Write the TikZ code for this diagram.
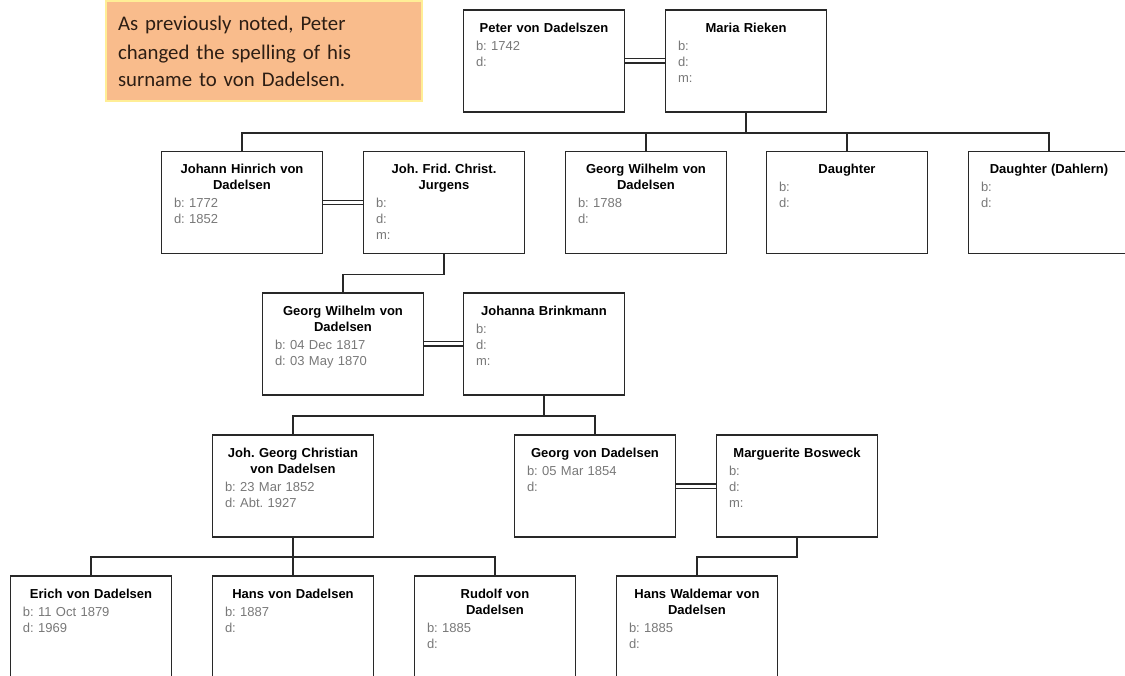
\documentclass[tikz,border=0pt]{standalone}
\usepackage{fontspec}
\setmainfont{Liberation Sans}
\newfontfamily\notefont{Carlito}
\usetikzlibrary{calc}
\frenchspacing
\definecolor{notefill}{RGB}{249,188,140}
\definecolor{noteedge}{RGB}{255,238,150}
\definecolor{notetext}{RGB}{45,30,20}
\definecolor{detail}{RGB}{120,120,120}
\definecolor{boxedge}{RGB}{40,40,40}
\tikzset{
  person/.style={draw=boxedge, line width=1.7pt, minimum width=161pt, minimum height=102pt, inner sep=0pt},
  info/.style={text width=136pt, inner sep=0pt, anchor=north, font=\fontsize{13}{16}\selectfont},
  link/.style={draw=boxedge, line width=1.5pt},
  marriage/.style={draw=boxedge, double=white, double distance=3pt, line width=1.2pt},
  note/.style={fill=notefill, draw=noteedge, line width=2pt, anchor=north west, minimum width=315pt, minimum height=100pt, text width=292pt, inner xsep=12pt, align=left, text=notetext, font=\notefont\fontsize{20.8}{27}\selectfont},
}
\newcommand{\pinfo}[2]{{\centering\bfseries #1\par}\vspace{2pt}{\raggedright\color{detail}#2\par}}
\newcommand{\person}[5]{%
  \node[person] (#1) at (#2,#3) {};
  \node[info] (#1-t) at ($(#1.north)+(0,13.5)$) {\pinfo{#4}{#5}};}
\begin{document}
\begin{tikzpicture}[x=1pt,y=-1pt]
\useasboundingbox (0,0) rectangle (1125,676);
\node[note] (note) at (105,0) {\vspace*{2pt}As previously noted, Peter\\changed the spelling of his\\surname to von Dadelsen.};
% row 1
\person{peter}{544}{61}{Peter von Dadelszen}{b: 1742\\d:}
\person{maria}{746}{61}{Maria Rieken}{b:\\d:\\m:}
% row 2
\person{jh}{242}{202.5}{Johann Hinrich von\\Dadelsen}{b: 1772\\d: 1852}
\person{jf}{444}{202.5}{Joh. Frid. Christ.\\Jurgens}{b:\\d:\\m:}
\person{gwa}{646}{202.5}{Georg Wilhelm von\\Dadelsen}{b: 1788\\d:}
\person{dau}{847}{202.5}{Daughter}{b:\\d:}
\person{dah}{1049}{202.5}{Daughter (Dahlern)}{b:\\d:}
% row 3
\person{gwb}{343}{344}{Georg Wilhelm von\\Dadelsen}{b: 04 Dec 1817\\d: 03 May 1870}
\person{joh}{544}{344}{Johanna Brinkmann}{b:\\d:\\m:}
% row 4
\person{jgc}{293}{486}{Joh. Georg Christian\\von Dadelsen}{b: 23 Mar 1852\\d: Abt. 1927}
\person{georg}{595}{486}{Georg von Dadelsen}{b: 05 Mar 1854\\d:}
\person{marg}{797}{486}{Marguerite Bosweck}{b:\\d:\\m:}
% row 5
\person{erich}{91}{627}{Erich von Dadelsen}{b: 11 Oct 1879\\d: 1969}
\person{hans}{293}{627}{Hans von Dadelsen}{b: 1887\\d:}
\person{rudolf}{495}{627}{Rudolf von\\Dadelsen}{b: 1885\\d:}
\person{hw}{697}{627}{Hans Waldemar von\\Dadelsen}{b: 1885\\d:}
% marriages
\draw[marriage] (peter) -- (maria);
\draw[marriage] (jh) -- (jf);
\draw[marriage] (gwb) -- (joh);
\draw[marriage] (georg) -- (marg);
% descent
\coordinate (j1) at ($(maria.south)+(0,20)$);
\draw[link] (maria.south) -- (j1);
\draw[link] (jh.north) |- (j1) -| (dah.north);
\draw[link] (gwa.north) |- (j1);
\draw[link] (dau.north) |- (j1);
\coordinate (j2) at ($(jf.south)+(0,20)$);
\draw[link] (jf.south) -- (j2) -| (gwb.north);
\coordinate (j3) at ($(joh.south)+(0,20)$);
\draw[link] (joh.south) -- (j3);
\draw[link] (jgc.north) |- (j3) -| (georg.north);
\coordinate (j4) at ($(jgc.south)+(0,19)$);
\draw[link] (jgc.south) -- (hans.north);
\draw[link] (erich.north) |- (j4) -| (rudolf.north);
\coordinate (j5) at ($(marg.south)+(0,19)$);
\draw[link] (marg.south) -- (j5) -| (hw.north);
\end{tikzpicture}
\end{document}
